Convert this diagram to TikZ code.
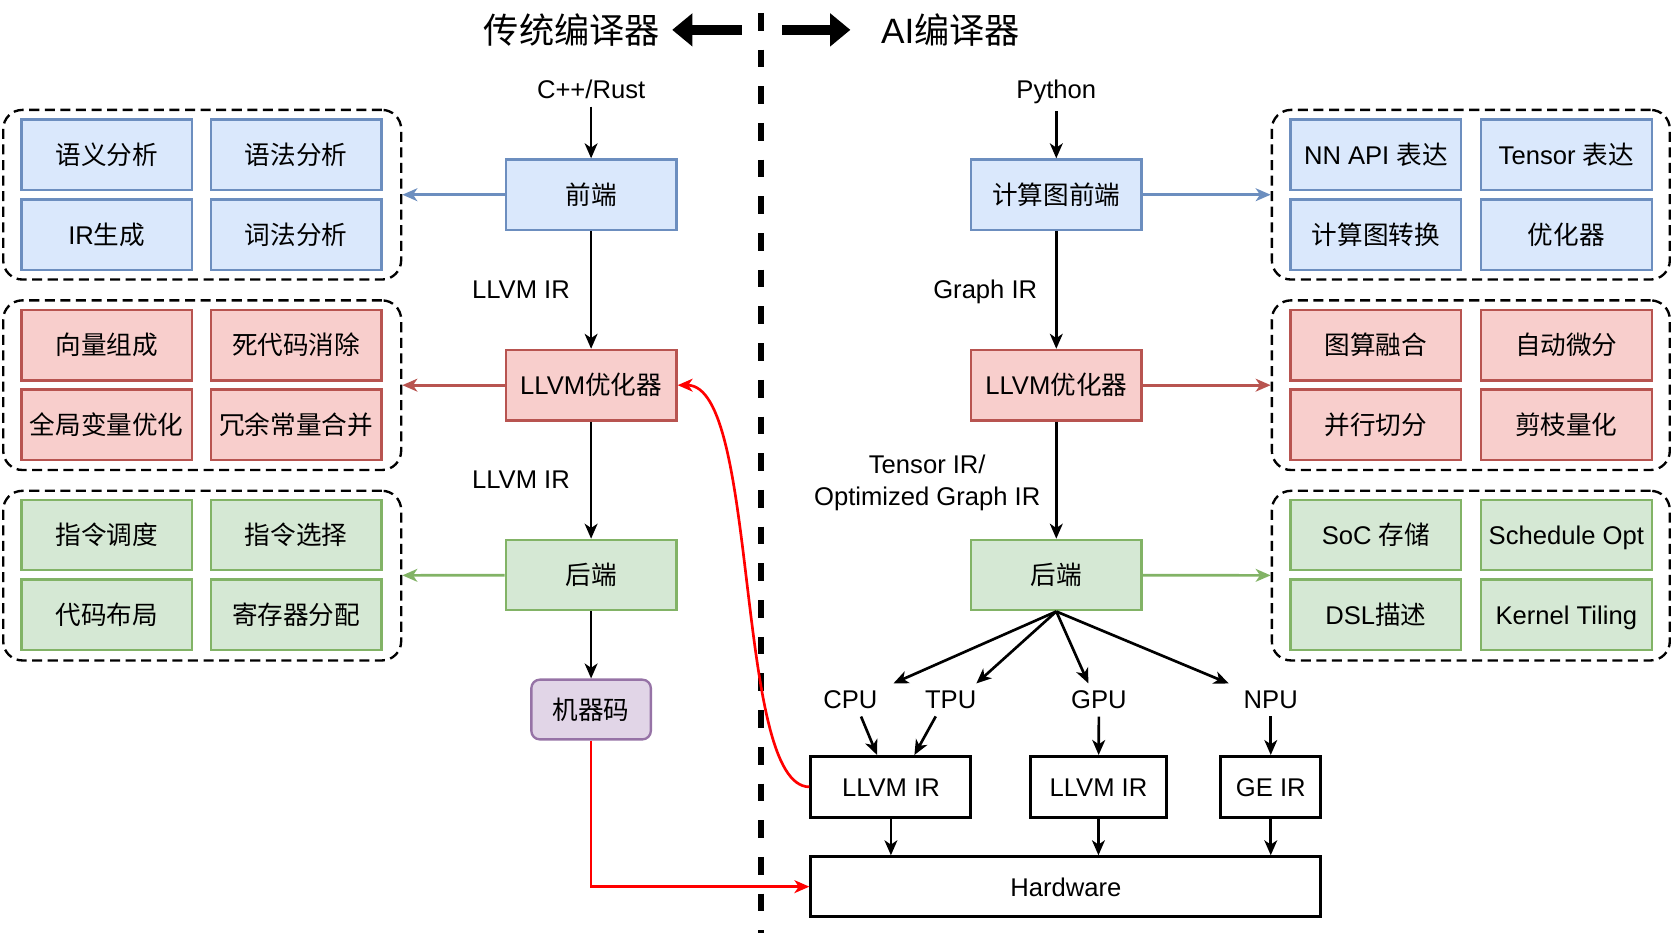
\documentclass[tikz,border=0pt]{standalone}
\usepackage{fontspec}
\setmainfont{Liberation Sans}
\newfontfamily\cjk{Noto Sans CJK SC}
\usetikzlibrary{positioning,calc,arrows.meta}

\newcommand{\zh}[1]{{\cjk #1}}

\definecolor{blueFill}{HTML}{DAE8FC}
\definecolor{blueLine}{HTML}{6C8EBF}
\definecolor{redFill}{HTML}{F8CECC}
\definecolor{redLine}{HTML}{B85450}
\definecolor{greenFill}{HTML}{D5E8D4}
\definecolor{greenLine}{HTML}{82B366}
\definecolor{purpleFill}{HTML}{E1D5E7}
\definecolor{purpleLine}{HTML}{9673A6}
\definecolor{hotRed}{HTML}{FF0000}

\tikzset{
    box/.style={draw, line width=1.1pt, minimum width=80pt, minimum height=33pt, inner sep=0pt,
                text height=10.5pt, text depth=1.5pt},
    bluebox/.style={box, draw=blueLine, fill=blueFill},
    redbox/.style={box, draw=redLine, fill=redFill},
    greenbox/.style={box, draw=greenLine, fill=greenFill},
    irbox/.style={draw, line width=1.4pt, minimum height=28.5pt, inner sep=0pt,
                  text height=10.5pt, text depth=1.5pt},
    group/.style={draw, line width=1.1pt, dash pattern=on 4.7pt off 2.6pt, rounded corners=9pt,
                  minimum width=186.5pt, minimum height=79.5pt, inner sep=0pt},
    flow/.style={line width=1.25pt, -{Stealth[length=7pt,width=6pt,inset=2pt]}},
    bigarrow/.style={line width=5pt, -{Triangle[length=9.5pt,width=15pt]}},
    divider/.style={line width=2.8pt, dash pattern=on 8.3pt off 8.9pt},
}

\begin{document}
\begin{tikzpicture}[x=0.5pt, y=-0.5pt, font=\fontsize{12}{14}\selectfont]
    \useasboundingbox (0,0) rectangle (1568,877);

    % titles and the divider
    \node[font=\fontsize{16.5}{20}\selectfont] (tl) at (536,28) {\zh{传统编译器}};
    \node[font=\fontsize{16.5}{20}\selectfont] (tr) at (891,28) {AI\zh{编译器}};
    \coordinate (la0) at (695,28);
    \coordinate (la1) at (630,28);
    \coordinate (ra0) at (733,28);
    \coordinate (ra1) at (797,28);
    \draw[bigarrow] (la0) -- (la1);
    \draw[bigarrow] (ra0) -- (ra1);
    \coordinate (divtop) at (713.5,12);
    \coordinate (divbot) at (713.5,874);
    \draw[divider] (divtop) -- (divbot);

    % traditional compiler
    \node (src) at (554,84) {C++/Rust};
    \node[bluebox] (fe) at (554,182.5) {\zh{前端}};
    \node[redbox] (opt) at (554,361) {LLVM\zh{优化器}};
    \node[greenbox] (be) at (554,539) {\zh{后端}};
    \node[draw=purpleLine, fill=purpleFill, line width=1.1pt, rounded corners=4pt,
          minimum width=56pt, minimum height=28pt, inner sep=0pt,
          text height=10.5pt, text depth=1.5pt] (mc) at (554,665) {\zh{机器码}};
    \draw[flow] (src) -- (fe);
    \draw[flow] (fe) -- (opt) node[midway, left=6pt] (ir1lbl) {LLVM IR};
    \draw[flow] (opt) -- (be) node[midway, left=6pt] (ir2lbl) {LLVM IR};
    \draw[flow] (be) -- (mc);

    % AI compiler
    \node (py) at (990,86) {Python};
    \node[bluebox] (gfe) at (990,182.5) {\zh{计算图前端}};
    \node[redbox] (gopt) at (990,361) {LLVM\zh{优化器}};
    \node[greenbox] (gbe) at (990,539) {\zh{后端}};
    \draw[flow] (py) -- (gfe);
    \draw[flow] (gfe) -- (gopt) node[midway, left=5pt, yshift=-1pt] (gir) {Graph IR};
    \draw[flow] (gopt) -- (gbe) node[midway, left=3.5pt, yshift=-1.5pt, align=center,
        font=\fontsize{12}{15}\selectfont] (tir) {Tensor IR/\\Optimized Graph IR};

    % targets
    \node (cpu) at (797,656) {CPU};
    \node (tpu) at (891,656) {TPU};
    \node (gpu) at (1030,656) {GPU};
    \node (npu) at (1191,656) {NPU};
    \node[irbox, minimum width=75pt] (ir1) at (835,737.5) {LLVM IR};
    \node[irbox, minimum width=63.5pt] (ir2) at (1029.5,737.5) {LLVM IR};
    \node[irbox, minimum width=47pt] (ir3) at (1191,737.5) {GE IR};
    \node[irbox, minimum width=239pt, minimum height=28pt] (hw) at (999,831) {Hardware};
    \draw[flow] (gbe.south) -- ([xshift=4pt]cpu.north east);
    \draw[flow] (gbe.south) -- ([xshift=-3.5pt]tpu.north east);
    \draw[flow] (gbe.south) -- ([xshift=-5pt]gpu.north);
    \draw[flow] (gbe.south) -- ([xshift=-3.5pt]npu.north west);
    \draw[flow] ([xshift=5pt]cpu.south) -- ([xshift=-6.5pt]ir1.north);
    \draw[flow] ([xshift=-7pt]tpu.south) -- ([xshift=11pt]ir1.north);
    \draw[flow] (gpu) -- (ir2);
    \draw[flow] (npu) -- (ir3);
    \foreach \n in {ir1,ir2,ir3}
        \draw[flow] (\n) -- (\n |- hw.north);

    % red links
    \draw[flow, draw=hotRed] (mc.south) |- (hw.west);
    \draw[flow, draw=hotRed] (ir1.west) .. controls (688,737) and (712,361) .. (opt.east);

    % pass groups, left
    \node[group] (lg1) at (189.5,182.5) {};
    \node[group] (lg2) at (189.5,361) {};
    \node[group] (lg3) at (189.5,539.5) {};
    \foreach \x/\y/\txt [count=\i] in {100/145/\zh{语义分析}, 277.5/145/\zh{语法分析}, 100/220/IR\zh{生成}, 277.5/220/\zh{词法分析}}
        \node[bluebox] (lb\i) at (\x,\y) {\txt};
    \foreach \x/\y/\txt [count=\i] in {100/323.5/\zh{向量组成}, 277.5/323.5/\zh{死代码消除}, 100/398/\zh{全局变量优化}, 277.5/398/\zh{冗余常量合并}}
        \node[redbox] (lr\i) at (\x,\y) {\txt};
    \foreach \x/\y/\txt [count=\i] in {100/501.5/\zh{指令调度}, 277.5/501.5/\zh{指令选择}, 100/576/\zh{代码布局}, 277.5/576/\zh{寄存器分配}}
        \node[greenbox] (lgn\i) at (\x,\y) {\txt};
    \draw[flow, draw=blueLine] (fe) -- (lg1);
    \draw[flow, draw=redLine] (opt) -- (lg2);
    \draw[flow, draw=greenLine] (be) -- (lg3);

    % pass groups, right
    \node[group] (rg1) at (1378.5,182.5) {};
    \node[group] (rg2) at (1378.5,361) {};
    \node[group] (rg3) at (1378.5,539.5) {};
    \foreach \x/\y/\txt [count=\i] in {1289.5/145/NN API \zh{表达}, 1468/145/Tensor \zh{表达}, 1289.5/220/\zh{计算图转换}, 1468/220/\zh{优化器}}
        \node[bluebox] (rb\i) at (\x,\y) {\txt};
    \foreach \x/\y/\txt [count=\i] in {1289.5/323.5/\zh{图算融合}, 1468/323.5/\zh{自动微分}, 1289.5/398/\zh{并行切分}, 1468/398/\zh{剪枝量化}}
        \node[redbox] (rr\i) at (\x,\y) {\txt};
    \foreach \x/\y/\txt [count=\i] in {1289.5/501.5/SoC \zh{存储}, 1468/501.5/Schedule Opt, 1289.5/576/DSL\zh{描述}, 1468/576/Kernel Tiling}
        \node[greenbox] (rgn\i) at (\x,\y) {\txt};
    \draw[flow, draw=blueLine] (gfe) -- (rg1);
    \draw[flow, draw=redLine] (gopt) -- (rg2);
    \draw[flow, draw=greenLine] (gbe) -- (rg3);
\end{tikzpicture}
\end{document}
